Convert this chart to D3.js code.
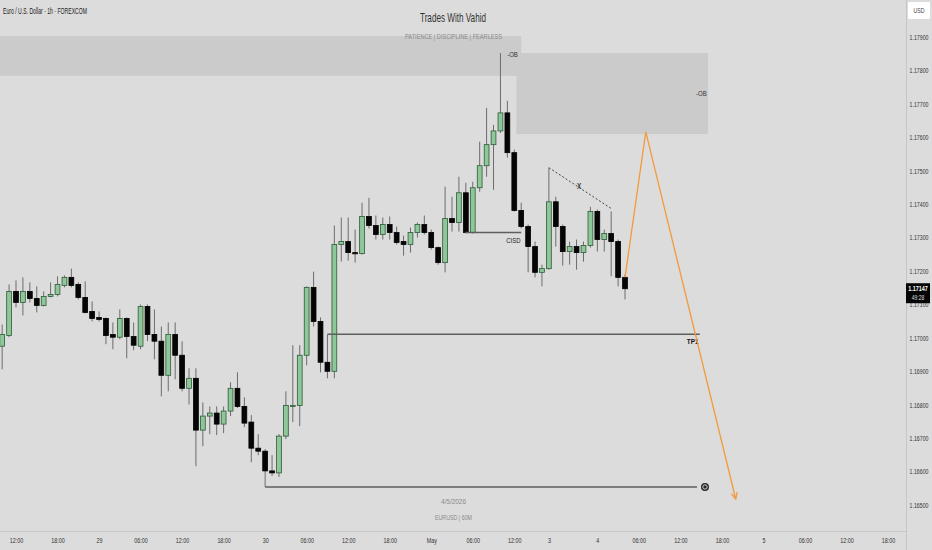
<!DOCTYPE html>
<html>
<meta charset="utf-8">
<style>
  body { margin: 0; background: #dcdcdc; }
  svg text { font-family: "Liberation Sans", Arial, sans-serif; }
  .wick { stroke: #6c6c6c; stroke-width: 1; }
  .up { fill: #8ec79a; stroke: #2f5a38; stroke-width: .8; }
  .down { fill: #050505; stroke: #000; stroke-width: .8; }
  .zone { fill: #cbcbcb; }
  .level { stroke: #5e5e5e; stroke-width: 1.5; fill: none; }
  .axisline { stroke: #c6c6c6; stroke-width: 1; }
</style>

<body>
  <script src="https://d3js.org/d3.v7.min.js"></script>

  <script>
    let width = 932,
      height = 550;

    // bar 0 = 28 Apr 12:00 (1h bars, weekend gap removed); first candle is bar -2
    let firstBar = -2;

    let opens = [
      1.16975, 1.17007, 1.17139, 1.17106, 1.17139, 1.17118, 1.17097, 1.17124, 1.17130, 1.17157,
      1.17181, 1.17160, 1.17121, 1.17079, 1.17061, 1.17058, 1.17010, 1.17002, 1.17058, 1.17004,
      1.16975, 1.17094, 1.17010, 1.16990, 1.16888, 1.17010, 1.16948, 1.16849, 1.16879, 1.16724,
      1.16766, 1.16775, 1.16742, 1.16781, 1.16849, 1.16795, 1.16748, 1.16670, 1.16661, 1.16602,
      1.16596, 1.16706, 1.16795, 1.16798, 1.16948, 1.17151, 1.17049, 1.16927, 1.16900, 1.17279,
      1.17288, 1.17255, 1.17252, 1.17363, 1.17336, 1.17309, 1.17339, 1.17315, 1.17288, 1.17279,
      1.17315, 1.17339, 1.17315, 1.17270, 1.17225, 1.17357, 1.17345, 1.17434, 1.17315, 1.17449,
      1.17515, 1.17578, 1.17619, 1.17673, 1.17554, 1.17381, 1.17333, 1.17273, 1.17196, 1.17207,
      1.17407, 1.17333, 1.17258, 1.17273, 1.17255, 1.17276, 1.17378, 1.17294, 1.17312, 1.17288, 1.17181
    ];
    let highs = [
      1.17040, 1.17160, 1.17172, 1.17181, 1.17166, 1.17154, 1.17139, 1.17166, 1.17184, 1.17187,
      1.17207, 1.17166, 1.17169, 1.17109, 1.17079, 1.17061, 1.17046, 1.17085, 1.17061, 1.17046,
      1.17100, 1.17100, 1.17085, 1.17034, 1.17046, 1.17046, 1.16990, 1.16909, 1.16909, 1.16807,
      1.16795, 1.16795, 1.16795, 1.16867, 1.16897, 1.16822, 1.16769, 1.16712, 1.16667, 1.16649,
      1.16712, 1.16840, 1.16978, 1.16978, 1.17154, 1.17198, 1.17061, 1.17010, 1.17336, 1.17360,
      1.17360, 1.17324, 1.17404, 1.17419, 1.17366, 1.17360, 1.17363, 1.17333, 1.17306, 1.17330,
      1.17345, 1.17366, 1.17324, 1.17273, 1.17452, 1.17422, 1.17482, 1.17464, 1.17467, 1.17587,
      1.17688, 1.17637, 1.17852, 1.17709, 1.17563, 1.17404, 1.17339, 1.17288, 1.17219, 1.17509,
      1.17422, 1.17339, 1.17288, 1.17294, 1.17288, 1.17392, 1.17384, 1.17324, 1.17378, 1.17294, 1.17190
    ];
    let lows = [
      1.16906, 1.17002, 1.17091, 1.17067, 1.17106, 1.17076, 1.17094, 1.17121, 1.17124, 1.17151,
      1.17151, 1.17115, 1.17073, 1.17049, 1.17049, 1.16981, 1.16966, 1.16996, 1.16939, 1.16963,
      1.16966, 1.16990, 1.16936, 1.16825, 1.16840, 1.16876, 1.16840, 1.16801, 1.16616, 1.16676,
      1.16712, 1.16709, 1.16715, 1.16766, 1.16790, 1.16733, 1.16628, 1.16649, 1.16554, 1.16587,
      1.16584, 1.16697, 1.16748, 1.16736, 1.16918, 1.17034, 1.16897, 1.16879, 1.16879, 1.17228,
      1.17231, 1.17225, 1.17249, 1.17327, 1.17294, 1.17294, 1.17294, 1.17279, 1.17246, 1.17255,
      1.17300, 1.17309, 1.17264, 1.17219, 1.17196, 1.17318, 1.17318, 1.17312, 1.17312, 1.17437,
      1.17482, 1.17443, 1.17613, 1.17539, 1.17378, 1.17327, 1.17196, 1.17181, 1.17154, 1.17204,
      1.17273, 1.17216, 1.17219, 1.17204, 1.17228, 1.17270, 1.17258, 1.17258, 1.17184, 1.17154, 1.17115
    ];
    let closes = [
      1.17010, 1.17139, 1.17106, 1.17139, 1.17118, 1.17097, 1.17124, 1.17130, 1.17160, 1.17181,
      1.17157, 1.17121, 1.17076, 1.17058, 1.17055, 1.17007, 1.17002, 1.17058, 1.17004, 1.16978,
      1.17094, 1.17010, 1.16990, 1.16888, 1.17010, 1.16948, 1.16849, 1.16879, 1.16724, 1.16766,
      1.16775, 1.16742, 1.16781, 1.16849, 1.16795, 1.16745, 1.16670, 1.16661, 1.16602, 1.16596,
      1.16706, 1.16798, 1.16798, 1.16948, 1.17151, 1.17049, 1.16927, 1.16900, 1.17279, 1.17288,
      1.17255, 1.17252, 1.17363, 1.17336, 1.17309, 1.17339, 1.17315, 1.17285, 1.17279, 1.17315,
      1.17339, 1.17315, 1.17270, 1.17225, 1.17357, 1.17345, 1.17434, 1.17315, 1.17449, 1.17515,
      1.17578, 1.17619, 1.17673, 1.17554, 1.17381, 1.17333, 1.17273, 1.17196, 1.17207, 1.17407,
      1.17333, 1.17258, 1.17273, 1.17255, 1.17276, 1.17378, 1.17294, 1.17312, 1.17288, 1.17181, 1.17147
    ];

    let timeTicks = [0, 6, 12, 18, 24, 30, 36, 42, 48, 54, 60, 66, 72, 77, 84, 90, 96, 102, 108, 114, 120, 126];
    let timeLabels = ["12:00", "18:00", "29", "06:00", "12:00", "18:00", "30", "06:00", "12:00", "18:00", "May",
      "06:00", "12:00", "3", "4", "06:00", "12:00", "18:00", "5", "06:00", "12:00", "18:00"];

    let priceTicks = [1.165, 1.166, 1.167, 1.168, 1.169, 1.170, 1.171, 1.172, 1.173, 1.174, 1.175, 1.176, 1.177, 1.178, 1.179];
    let lastPrice = 1.17147;
    let countdown = "49:28";

    // order-block zones: [fromBar, toBar, top, bottom, label]
    let zones = [
      [-2.4, 73, 1.17903, 1.17784, "-OB"],
      [72.3, 100, 1.17852, 1.17610, "-OB"]
    ];
    // horizontal levels: [fromBar, toBar, price, label]
    let levels = [
      [64.9, 73, 1.17315, "CISD"],
      [45, 98.8, 1.17011, "TP1"],
      [36, 98.4, 1.16554, ""]
    ];
    let trendBars = [77, 86];
    let trendPrices = [1.17509, 1.17387];
    let pathBars = [88, 91, 104];
    let pathPrices = [1.17181, 1.17616, 1.16518];

    let plotRight = 906, plotBottom = 531;

    let x = d3.scaleLinear().domain([0, 126]).range([16, 888]);
    let y = d3.scaleLinear().domain([1.165, 1.179]).range([505, 37]);

    let svg = d3.select("body").append("svg")
      .attr("width", width)
      .attr("height", height)
      .style("background", "#dcdcdc");

    svg.append("clipPath").attr("id", "plot")
      .append("rect").attr("width", plotRight).attr("height", plotBottom);

    let plot = svg.append("g").attr("clip-path", "url(#plot)");

    function label(g, px, py, str, size, color, anchor, sx, weight) {
      return g.append("text")
        .attr("transform", `translate(${px},${py}) scale(${sx},1)`)
        .attr("text-anchor", anchor)
        .attr("font-size", size)
        .attr("font-weight", weight || "normal")
        .attr("fill", color)
        .text(str);
    }

    // zones
    plot.selectAll(".zone")
      .data(zones)
      .join("rect")
      .attr("class", "zone")
      .attr("x", d => x(d[0]))
      .attr("width", d => x(d[1]) - x(d[0]))
      .attr("y", d => y(d[2]))
      .attr("height", d => y(d[3]) - y(d[2]));

    label(plot, x(zones[0][1]) - 14, y(zones[1][2]) + 4, zones[0][4], 8, "#333", "start", 0.75);
    label(plot, x(zones[1][1]) - 12, y((zones[1][2] + zones[1][3]) / 2) + 3, zones[1][4], 8, "#333", "start", 0.75);

    // header texts
    svg.append("text").attr("x", 3).attr("y", 14).attr("font-size", 9).attr("fill", "#222")
      .attr("textLength", 84).attr("lengthAdjust", "spacingAndGlyphs")
      .text("Euro / U.S. Dollar · 1h · FOREXCOM");
    svg.append("text").attr("x", 420).attr("y", 22).attr("font-size", 13.5).attr("fill", "#333")
      .attr("textLength", 66).attr("lengthAdjust", "spacingAndGlyphs")
      .text("Trades With Vahid");
    svg.append("text").attr("x", 405).attr("y", 39).attr("font-size", 8).attr("fill", "#8a8a8a")
      .attr("textLength", 97).attr("lengthAdjust", "spacingAndGlyphs")
      .text("PATIENCE  |  DISCIPLINE  |  FEARLESS");
    svg.append("text").attr("x", 441).attr("y", 504).attr("font-size", 8).attr("fill", "#8a8a8a")
      .attr("textLength", 25).attr("lengthAdjust", "spacingAndGlyphs")
      .text("4/5/2026");
    svg.append("text").attr("x", 435).attr("y", 520).attr("font-size", 8).attr("fill", "#8a8a8a")
      .attr("textLength", 37).attr("lengthAdjust", "spacingAndGlyphs")
      .text("EURUSD | 60M");

    // candles
    let candles = closes.map((c, i) => ({
      bar: firstBar + i, o: opens[i], h: highs[i], l: lows[i], c: c
    }));

    plot.selectAll(".wick")
      .data(candles)
      .join("line")
      .attr("class", "wick")
      .attr("x1", d => x(d.bar)).attr("x2", d => x(d.bar))
      .attr("y1", d => y(d.h)).attr("y2", d => y(d.l));

    plot.selectAll(".body")
      .data(candles)
      .join("rect")
      .attr("class", d => "body " + (d.c >= d.o ? "up" : "down"))
      .attr("x", d => x(d.bar) - 2.4)
      .attr("width", 4.8)
      .attr("y", d => y(Math.max(d.o, d.c)))
      .attr("height", d => Math.max(1.2, Math.abs(y(d.o) - y(d.c))));

    // levels
    plot.selectAll(".level")
      .data(levels)
      .join("line")
      .attr("class", "level")
      .attr("x1", d => x(d[0])).attr("x2", d => x(d[1]))
      .attr("y1", d => y(d[2])).attr("y2", d => y(d[2]));

    label(plot, x(levels[0][1]) - 15, y(levels[0][2]) + 10, levels[0][3], 8, "#222", "start", 0.75);
    label(plot, x(levels[1][1]) - 13, y(levels[1][2]) + 10, levels[1][3], 8, "#111", "start", 0.8, "bold");

    // end marker of the low level
    let mk = plot.append("g")
      .attr("transform", `translate(${x(levels[2][1]) + 8},${y(levels[2][2])})`);
    mk.append("circle").attr("r", 4).attr("fill", "#2a2a2a");
    mk.append("circle").attr("r", 2.2).attr("fill", "none").attr("stroke", "#ddd").attr("stroke-width", 0.9);

    // dashed trend line
    plot.append("line")
      .attr("x1", x(trendBars[0])).attr("y1", y(trendPrices[0]))
      .attr("x2", x(trendBars[1])).attr("y2", y(trendPrices[1]))
      .attr("stroke", "#444").attr("stroke-width", 1).attr("stroke-dasharray", "2,2");
    label(plot, (x(trendBars[0]) + x(trendBars[1])) / 2 - 1, (y(trendPrices[0]) + y(trendPrices[1])) / 2 + 1,
      "x", 10, "#222", "middle", 0.85);

    // projected path
    let pts = pathBars.map((b, i) => [x(b), y(pathPrices[i])]);
    plot.append("path")
      .attr("d", d3.line()(pts))
      .attr("fill", "none")
      .attr("stroke", "#f29a3c")
      .attr("stroke-width", 1.3);

    let a = pts[pts.length - 1], b = pts[pts.length - 2];
    let ang = Math.atan2(a[1] - b[1], a[0] - b[0]);
    let head = [ang + Math.PI - 0.45, ang + Math.PI + 0.45].map(t => [a[0] + 7 * Math.cos(t), a[1] + 7 * Math.sin(t)]);
    plot.append("path")
      .attr("d", d3.line()([head[0], a, head[1]]))
      .attr("fill", "none")
      .attr("stroke", "#f29a3c")
      .attr("stroke-width", 1.3);

    // axes
    svg.append("line").attr("class", "axisline")
      .attr("x1", plotRight + 0.5).attr("x2", plotRight + 0.5).attr("y1", 0).attr("y2", height);
    svg.append("line").attr("class", "axisline")
      .attr("x1", 0).attr("x2", plotRight).attr("y1", plotBottom + 0.5).attr("y2", plotBottom + 0.5);

    let yAxis = svg.append("g")
      .attr("transform", `translate(919,0)`)
      .call(d3.axisRight(y).tickValues(priceTicks).tickFormat(d3.format(".5f")).tickSize(0));
    yAxis.select(".domain").remove();
    yAxis.selectAll("text")
      .attr("x", 0).attr("text-anchor", "middle")
      .attr("font-size", 7.5).attr("fill", "#333")
      .attr("transform", "scale(0.7,1)");

    let xAxis = svg.append("g")
      .attr("transform", `translate(0,${plotBottom})`)
      .call(d3.axisBottom(x).tickValues(timeTicks).tickFormat((d, i) => timeLabels[i]).tickSize(0));
    xAxis.select(".domain").remove();
    xAxis.selectAll("text")
      .attr("y", 7).attr("font-size", 7.5).attr("fill", "#333")
      .attr("transform", "scale(0.72,1)");

    // currency box
    svg.append("rect").attr("x", 908).attr("y", 2).attr("width", 22).attr("height", 17).attr("fill", "#fff").attr("rx", 1);
    label(svg, 919, 13, "USD", 7, "#444", "middle", 0.75);

    // last price box
    svg.append("rect").attr("x", plotRight).attr("y", y(lastPrice) - 5.5).attr("width", 24).attr("height", 20).attr("fill", "#050505");
    label(svg, 918, y(lastPrice) + 2, d3.format(".5f")(lastPrice), 7.5, "#fff", "middle", 0.72, "bold");
    label(svg, 918, y(lastPrice) + 11.5, countdown, 7, "#ddd", "middle", 0.72);
  </script>

</body>

</html>
